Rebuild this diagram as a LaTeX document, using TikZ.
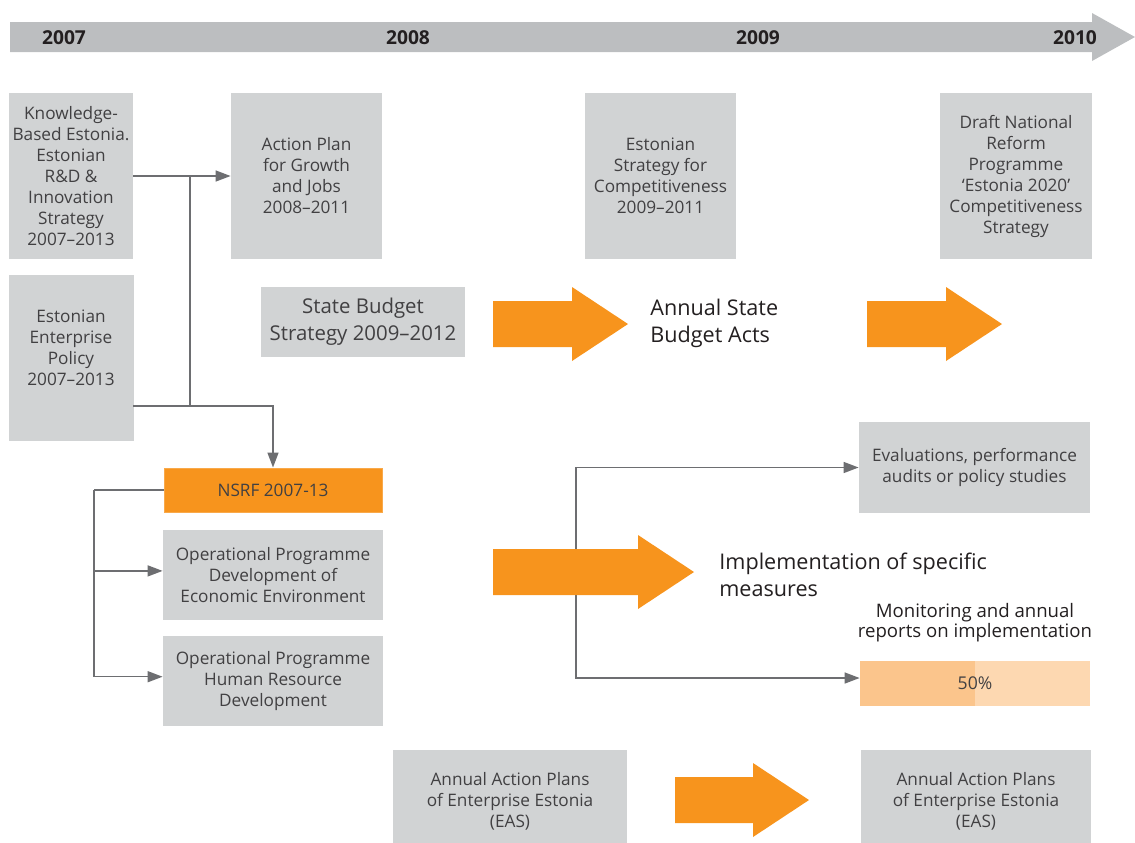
\documentclass[tikz,border=0pt]{standalone}
\usepackage{fontspec}
\setmainfont{Open Sans}
\usetikzlibrary{positioning,arrows.meta}

\definecolor{timegrey}{HTML}{BCBEC0}
\definecolor{boxgrey}{HTML}{D1D3D4}
\definecolor{linegrey}{HTML}{6D6E71}
\definecolor{fatorange}{HTML}{F7941D}
\definecolor{barleft}{HTML}{FBC58C}
\definecolor{barright}{HTML}{FDD8B1}
\definecolor{boxtext}{HTML}{414042}
\definecolor{darktext}{HTML}{231F20}

\tikzset{
  box/.style={fill=boxgrey, text=boxtext, align=center, inner sep=0pt,
    font=\fontsize{8.6}{10.5}\selectfont},
  orangebox/.style={box, fill=fatorange, draw=fatorange!80!white, line width=0.5pt},
  year/.style={text=darktext, font=\fontsize{9.6}{11}\selectfont\bfseries},
  bigtext/.style={text=darktext, align=left, anchor=west, inner sep=0pt,
    font=\fontsize{10.8}{13.5}\selectfont},
  line/.style={draw=linegrey, line width=0.75pt},
  conn/.style={line, -{Triangle[length=7.5pt,width=5.5pt]}},
  progbar/.style={fill=barright, text=boxtext, inner sep=0pt,
    minimum width=115pt, minimum height=22.5pt,
    font=\fontsize{8.8}{10.5}\selectfont,
    path picture={\fill[barleft] (path picture bounding box.south west)
      rectangle (path picture bounding box.north);}},
}

% fat orange arrow: left x, tip x, centre y
\newcommand{\fatarrow}[3]{%
  \fill[fatorange] (#1,#3-23) -- (#2-56,#3-23) -- (#2-56,#3-37) -- (#2,#3)
    -- (#2-56,#3+37) -- (#2-56,#3+23) -- (#1,#3+23) -- cycle;}

\begin{document}
\begin{tikzpicture}[x=0.5pt,y=-0.5pt]
  \useasboundingbox (0,0) rectangle (1135,842);

  % timeline
  \fill[timegrey] (10,22) -- (1092,22) -- (1092,13) -- (1135,37)
    -- (1092,61) -- (1092,52) -- (10,52) -- cycle;
  \node[year] (y2007) at (64,38) {2007};
  \node[year] (y2008) at (408,38) {2008};
  \node[year] (y2009) at (758,38) {2009};
  \node[year] (y2010) at (1075,38) {2010};

  % strategies
  \node[box, minimum width=62pt, minimum height=83pt] (kbe) at (71,176)
    {Knowledge-\\Based Estonia.\\Estonian\\R\&D \&\\Innovation\\Strategy\\2007--2013};
  \node[box, minimum width=62.5pt, minimum height=83pt, below=7.5pt of kbe] (eep)
    {Estonian\\Enterprise\\Policy\\2007--2013\\\mbox{}};
  \node[box, minimum width=75.5pt, minimum height=83pt] (apgj) at (306.5,176)
    {Action Plan\\for Growth\\and Jobs\\2008--2011};
  \node[box, minimum width=75.5pt, minimum height=83pt] (esc) at (660.5,176)
    {Estonian\\Strategy for\\Competitiveness\\2009--2011};
  \node[box, minimum width=76pt, minimum height=83pt] (dnrp) at (1016,176)
    {Draft National\\Reform\\Programme\\`Estonia 2020'\\Competitiveness\\Strategy};

  % budget
  \node[box, minimum width=102pt, minimum height=35pt,
    font=\fontsize{10.2}{13.5}\selectfont] (sbs) at (363,322)
    {State Budget\\Strategy 2009--2012};
  \node[bigtext] (asba) at (650,323.5) {Annual State\\Budget Acts};

  % structural funds
  \node[orangebox, minimum width=109pt, minimum height=22pt] (nsrf) at (273,490)
    {NSRF 2007-13};
  \node[box, minimum width=110pt, minimum height=45pt, below=8.5pt of nsrf] (opdee)
    {Operational Programme\\Development of\\Economic Environment};
  \node[box, minimum width=110pt, minimum height=45pt, below=7.5pt of opdee] (ophrd)
    {Operational Programme\\Human Resource\\Development};

  % implementation
  \node[bigtext] (impl) at (719,575) {Implementation of specific\\measures};
  \node[box, minimum width=115.5pt, minimum height=45.5pt] (eval) at (974.5,467.5)
    {Evaluations, performance\\audits or policy studies};
  \node[text=darktext, align=center, font=\fontsize{9.3}{10}\selectfont] (mon)
    at (975,622.5) {Monitoring and annual\\reports on implementation};
  \node[progbar] (bar) at (975,683.5) {50\%};

  % enterprise estonia
  \node[box, minimum width=117pt, minimum height=51pt] (aapl) at (510,801)
    {Annual Action Plans\\of Enterprise Estonia\\(EAS)};
  \node[box, minimum width=115pt, minimum height=51pt] (aapr) at (976,801)
    {Annual Action Plans\\of Enterprise Estonia\\(EAS)};

  % connectors
  \coordinate (kbejoin) at (190,176);
  \coordinate (eepout) at (133,406);
  \coordinate (nsrfbus) at (94,490);
  \coordinate (implbus) at (576,572);
  \draw[conn] (kbe) -- (apgj);
  \draw[line] (kbejoin) -- (kbejoin |- eepout);
  \draw[conn] (eepout) -| (nsrf.north);
  \draw[line] (nsrf.west) -- (nsrfbus);
  \draw[conn] (nsrfbus) |- ([yshift=2pt]opdee.west);
  \draw[conn] (nsrfbus) |- ([yshift=2pt]ophrd.west);
  \draw[conn] (implbus) |- (eval.west);
  \draw[conn] (implbus) |- ([yshift=2.75pt]bar.west);

  % big arrows
  \fatarrow{493}{628}{324}
  \fatarrow{867}{1002}{324}
  \fatarrow{493}{694}{572}
  \fatarrow{675}{809}{800}
\end{tikzpicture}
\end{document}
